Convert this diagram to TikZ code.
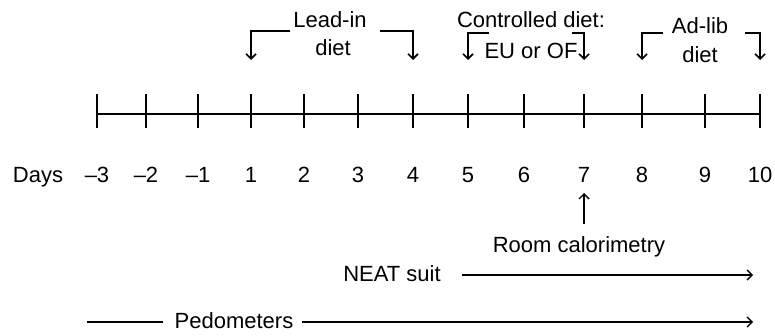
\documentclass[tikz,border=0pt]{standalone}
\usepackage{fontspec}
\setmainfont{Liberation Sans}
\usetikzlibrary{arrows.meta, positioning, calc}

\begin{document}
\begin{tikzpicture}[
    x=1pt, y=-1pt,
    lbl/.style={anchor=base, inner sep=0pt, font=\fontsize{22}{25}\selectfont},
    axis/.style={line width=1.9pt},
    bracket/.style={line width=1.6pt, -{Straight Barb[length=5pt, width=10pt]}},
    arrow/.style={line width=1.4pt, -{Straight Barb[length=5pt, width=10pt]}}
]
    \useasboundingbox (0,0) rectangle (775,335);

    % time axis
    \foreach \x/\d [count=\i] in {97/\textendash3, 146/\textendash2, 198/\textendash1, 251/1, 304/2, 358/3, 413/4, 468/5, 524/6, 584/7, 642/8, 705/9, 760/10} {
        \coordinate (t\i) at (\x,114);
        \coordinate (up\i) at (\x,60);
        \draw[axis] (\x,94) -- (\x,128);
        \node[lbl] (day\i) at (\x,182) {\d};
    }
    \draw[axis] (t1) -- (t13);
    \node[lbl] (days) at (38,182) {Days};

    % diet phases
    \node[lbl] (leadin) at (330,27) {Lead-in};
    \node[lbl] (leaddiet) at (333,55) {diet};
    \coordinate (leadL) at (290,31);
    \coordinate (leadR) at (380,31);
    \draw[bracket] (leadL) -| (up4);
    \draw[bracket] (leadR) -| (up7);

    \node[lbl] (ctrl) at (531,27) {Controlled diet:};
    \node[lbl] (euof) at (531,58) {EU or OF};
    \coordinate (ctrlL) at (489,33);
    \coordinate (ctrlR) at (572,33);
    \draw[bracket] (ctrlL) -| (up8);
    \draw[bracket] (ctrlR) -| (up10);

    \node[lbl] (adlib) at (700,33) {Ad-lib};
    \node[lbl] (adlibdiet) at (700,62) {diet};
    \coordinate (adlibL) at (663,33);
    \coordinate (adlibR) at (745,33);
    \draw[bracket] (adlibL) -| (up11);
    \draw[bracket] (adlibR) -| (up13);

    % measurements
    \node[lbl] (calor) at (579,252) {Room calorimetry};
    \coordinate (calorLow) at (584,224);
    \coordinate (calorTip) at (584,193);
    \draw[arrow] (calorLow) -- (calorTip);

    \node[lbl] (neat) at (392,281) {NEAT suit};
    \coordinate (neatL) at (462,275);
    \coordinate (neatR) at (753,275);
    \draw[arrow] (neatL) -- (neatR);

    \node[lbl] (pedo) at (234,328) {Pedometers};
    \coordinate (pedoA) at (87,322);
    \coordinate (pedoB) at (163,322);
    \coordinate (pedoC) at (302,322);
    \coordinate (pedoD) at (753,322);
    \draw[line width=1.4pt] (pedoA) -- (pedoB);
    \draw[arrow] (pedoC) -- (pedoD);
\end{tikzpicture}
\end{document}
